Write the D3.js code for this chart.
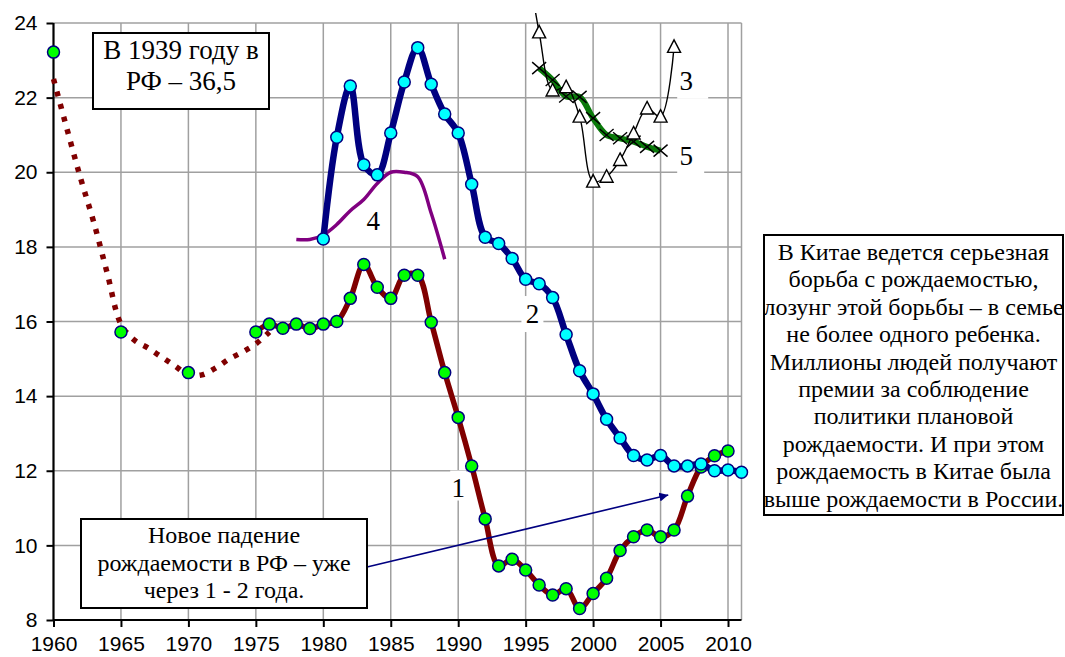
<!DOCTYPE html>
<html>
<head>
<meta charset="utf-8">
<script src="https://cdn.jsdelivr.net/npm/d3@7"></script>
<style>
  body { margin: 0; background: #fff; }
  svg { display: block; }
  .tick text { font-family: "Liberation Sans", Arial, sans-serif; font-size: 21px; fill: #000; }
  .note { font-family: "Liberation Serif", "DejaVu Serif", serif; fill: #000; }
</style>
</head>
<body>
<div id="wrapper"></div>
<script>
// data
// series 1 (Russia) - markers
const rusYears = [1960, 1965, 1970, 1975, 1976, 1977, 1978, 1979, 1980, 1981, 1982, 1983, 1984, 1985,
  1986, 1987, 1988, 1989, 1990, 1991, 1992, 1993, 1994, 1995, 1996, 1997, 1998, 1999, 2000,
  2001, 2002, 2003, 2004, 2005, 2006, 2007, 2008, 2009, 2010]
const rusValues = [23.22, 15.72, 14.63, 15.72, 15.93, 15.82, 15.93, 15.81, 15.93, 16.0, 16.62, 17.53, 16.92, 16.62,
  17.24, 17.24, 15.98, 14.63, 13.43, 12.13, 10.71, 9.45, 9.63, 9.34, 8.94, 8.67, 8.84, 8.31, 8.71,
  9.12, 9.86, 10.23, 10.41, 10.23, 10.41, 11.32, 12.1, 12.4, 12.53]
// series 1 early estimate (dotted)
const rusEarlyYears = [1960, 1961, 1962, 1963, 1964, 1965, 1966, 1967, 1968, 1969, 1970, 1971, 1972, 1973, 1974, 1975, 1976]
const rusEarlyValues = [22.5, 21.16, 19.85, 18.64, 17.27, 15.93, 15.5, 15.29, 15.05, 14.81, 14.57, 14.57, 14.75, 14.99, 15.18, 15.4, 15.72]
// series 2
const s2Years = d3.range(1980, 2012)
const s2Values = [18.21, 20.94, 22.31, 20.2, 19.93, 21.05, 22.42, 23.34, 22.36, 21.56, 21.05, 19.68, 18.26,
  18.09, 17.69, 17.13, 17.01, 16.64, 15.65, 14.68, 14.06, 13.38, 12.88, 12.41, 12.29, 12.41,
  12.13, 12.13, 12.18, 12.0, 12.02, 11.96]
// series 3
const s3Years = [1995, 1996, 1997, 1998, 1999, 2000, 2001, 2002, 2003, 2004, 2005, 2006]
const s3Values = [26.0, 23.75, 22.19, 22.28, 21.49, 19.75, 19.88, 20.33, 21.04, 21.71, 21.49, 23.36]
// series 4
const s4Years = [1978, 1979, 1980, 1981, 1982, 1983, 1984, 1985, 1986, 1987, 1988, 1989]
const s4Values = [18.2, 18.2, 18.32, 18.6, 18.97, 19.27, 19.7, 20.0, 20.0, 19.88, 18.9, 17.67]
// series 5
const s5Years = [1996, 1997, 1998, 1999, 2000, 2001, 2002, 2003, 2004, 2005]
const s5Values = [22.79, 22.47, 22.03, 22.02, 21.45, 21.0, 20.91, 20.82, 20.68, 20.58]

const yTicks = [8, 10, 12, 14, 16, 18, 20, 22, 24]
const xTicks = [1960, 1965, 1970, 1975, 1980, 1985, 1990, 1995, 2000, 2005, 2010]

// series number labels (data units)
const seriesLabels = [
  {text: "1", x: 1990, y: 11.55, box: [-8, -17, 16, 30]},
  {text: "2", x: 1995.5, y: 16.2, box: [-11, -18, 22, 36]},
  {text: "3", x: 2006.9, y: 22.45, box: [-9, -18, 31, 36]},
  {text: "5", x: 2006.9, y: 20.45, box: [-9, -17, 27, 35]},
  {text: "4", x: 1983.7, y: 18.7, box: null}
]
const arrowFrom = {x: 1983.24, y: 9.42}
const arrowTo = {x: 2005.57, y: 11.35}

const zip = (xs, ys) => xs.map((x, i) => ({x, y: ys[i]}))
const rus = zip(rusYears, rusValues)
const rusEarly = zip(rusEarlyYears, rusEarlyValues)
const s2 = zip(s2Years, s2Values)
const s3 = zip(s3Years, s3Values)
const s4 = zip(s4Years, s4Values)
const s5 = zip(s5Years, s5Values)

// dimensions
const dimensions = {
  width: 1065,
  height: 657,
  margin: {top: 23, right: 323.5, bottom: 37, left: 53.5}
}
dimensions.boundedWidth = dimensions.width - dimensions.margin.left - dimensions.margin.right
dimensions.boundedHeight = dimensions.height - dimensions.margin.top - dimensions.margin.bottom

const svg = d3.select("#wrapper").append("svg")
  .attr("width", dimensions.width)
  .attr("height", dimensions.height)

const xScale = d3.scaleLinear()
  .domain([1960, 2011])
  .range([dimensions.margin.left, dimensions.margin.left + dimensions.boundedWidth])
const yScale = d3.scaleLinear()
  .domain([8, 24])
  .range([dimensions.margin.top + dimensions.boundedHeight, dimensions.margin.top])

svg.append("defs").append("clipPath").attr("id", "clip")
  .append("rect")
    .attr("x", 0).attr("y", 13)
    .attr("width", dimensions.width).attr("height", dimensions.height)
svg.select("defs").append("marker")
  .attr("id", "arrow")
  .attr("viewBox", "0 0 10 10")
  .attr("refX", 10).attr("refY", 5)
  .attr("markerWidth", 9).attr("markerHeight", 9)
  .attr("markerUnits", "userSpaceOnUse")
  .attr("orient", "auto")
  .append("path").attr("d", "M0,0L10,5L0,10Z").attr("fill", "#000080")

// grid
const grid = svg.append("g").attr("stroke", "#a0a0a0").attr("stroke-width", 1.5)
grid.selectAll(".h").data(yTicks.filter(d => d > 8)).join("line")
  .attr("x1", xScale(1960)).attr("x2", xScale(2011))
  .attr("y1", d => yScale(d)).attr("y2", d => yScale(d))
grid.selectAll(".v").data(xTicks.filter(d => d > 1960).concat([2011])).join("line")
  .attr("x1", d => xScale(d)).attr("x2", d => xScale(d))
  .attr("y1", yScale(8)).attr("y2", yScale(24))

// axes
const yAxis = svg.append("g")
  .attr("transform", `translate(${xScale(1960)},0)`)
  .call(d3.axisLeft(yScale).tickValues(yTicks).tickSize(7).tickPadding(9).tickFormat(d3.format("d")))
const xAxis = svg.append("g")
  .attr("transform", `translate(0,${yScale(8)})`)
  .call(d3.axisBottom(xScale).tickValues(xTicks).tickSize(7).tickPadding(9).tickFormat(d3.format("d")))
svg.selectAll(".domain").attr("stroke", "#000").attr("stroke-width", 2.2)
svg.selectAll(".tick line").attr("stroke", "#000").attr("stroke-width", 2)
yAxis.select(".domain").attr("d", `M0,${yScale(8)}V${yScale(24)}`)
xAxis.select(".domain").attr("d", `M${xScale(1960)},0H${xScale(2011)}`)

// series number labels
const lab = svg.append("g")
seriesLabels.forEach(l => {
  const cx = xScale(l.x), cy = yScale(l.y)
  if (l.box) lab.append("rect")
    .attr("x", cx + l.box[0]).attr("y", cy + l.box[1])
    .attr("width", l.box[2]).attr("height", l.box[3]).attr("fill", "#fff")
  lab.append("text").attr("class", "note")
    .attr("font-family", "Liberation Serif, DejaVu Serif, serif")
    .attr("x", cx).attr("y", cy).attr("dy", "0.35em")
    .attr("text-anchor", "middle").attr("font-size", 27)
    .text(l.text)
})

// lines
const smooth = d3.line().x(d => xScale(d.x)).y(d => yScale(d.y)).curve(d3.curveCatmullRom.alpha(0.5))

svg.append("path").datum(rusEarly)
  .attr("d", smooth).attr("fill", "none")
  .attr("stroke", "#800000").attr("stroke-width", 5.5)
  .attr("stroke-dasharray", "5,8")

svg.append("path").datum(s4)
  .attr("d", smooth).attr("fill", "none")
  .attr("stroke", "#800080").attr("stroke-width", 3.5)

svg.append("path").datum(rus.filter(d => d.x >= 1975))
  .attr("d", smooth).attr("fill", "none")
  .attr("stroke", "#800000").attr("stroke-width", 5.5)
svg.append("g").selectAll("circle").data(rus).join("circle")
  .attr("cx", d => xScale(d.x)).attr("cy", d => yScale(d.y)).attr("r", 6)
  .attr("fill", "#00ff00").attr("stroke", "#000080").attr("stroke-width", 1.5)

svg.append("path").datum(s2)
  .attr("d", smooth).attr("fill", "none")
  .attr("stroke", "#000080").attr("stroke-width", 6.5)
svg.append("g").selectAll("circle").data(s2).join("circle")
  .attr("cx", d => xScale(d.x)).attr("cy", d => yScale(d.y)).attr("r", 6)
  .attr("fill", "#00ffff").attr("stroke", "#000080").attr("stroke-width", 1.5)

svg.append("path").datum(s5)
  .attr("d", smooth).attr("fill", "none")
  .attr("stroke", "#0a7a0a").attr("stroke-width", 6)
svg.append("g").selectAll("path").data(s5).join("path")
  .attr("transform", d => `translate(${xScale(d.x)},${yScale(d.y)})`)
  .attr("d", "M-7,-6L7,6M-7,6L7,-6")
  .attr("stroke", "#000").attr("stroke-width", 1.4)

svg.append("path").datum(s3)
  .attr("clip-path", "url(#clip)")
  .attr("d", smooth).attr("fill", "none")
  .attr("stroke", "#000").attr("stroke-width", 1.4)
svg.append("g").selectAll("path").data(s3.filter(d => d.y <= 24)).join("path")
  .attr("transform", d => `translate(${xScale(d.x)},${yScale(d.y)})`)
  .attr("d", "M0,-7L6.5,5.5L-6.5,5.5Z")
  .attr("fill", "#fff").attr("stroke", "#000").attr("stroke-width", 1.4)

// text boxes
function noteBox(x, y, w, h, lines, size, firstBase, step) {
  const g = svg.append("g")
  g.append("rect").attr("x", x).attr("y", y).attr("width", w).attr("height", h)
    .attr("fill", "#fff").attr("stroke", "#000").attr("stroke-width", 2)
  g.selectAll("text").data(lines).join("text").attr("class", "note")
    .attr("font-family", "Liberation Serif, DejaVu Serif, serif")
    .attr("x", x + w / 2).attr("y", (d, i) => firstBase + i * step)
    .attr("text-anchor", "middle").attr("font-size", size)
    .text(d => d)
}
noteBox(93, 33, 176, 76, ["В 1939 году в", "РФ – 36,5"], 27, 59, 31)
noteBox(764, 235, 299, 280,
  ["В Китае ведется серьезная", "борьба с рождаемостью,", "лозунг этой борьбы – в семье",
   "не более одного ребенка.", "Миллионы людей получают", "премии за соблюдение",
   "политики плановой", "рождаемости. И при этом", "рождаемость в Китае была",
   "выше рождаемости в России."], 24, 260, 27.4)

// arrow
svg.append("line")
  .attr("x1", xScale(arrowFrom.x)).attr("y1", yScale(arrowFrom.y))
  .attr("x2", xScale(arrowTo.x)).attr("y2", yScale(arrowTo.y))
  .attr("stroke", "#000080").attr("stroke-width", 1.6)
  .attr("marker-end", "url(#arrow)")

noteBox(81, 519, 286, 89, ["Новое падение", "рождаемости в РФ – уже", "через 1 - 2 года."], 24, 543, 27.5)
</script>
</body>
</html>
